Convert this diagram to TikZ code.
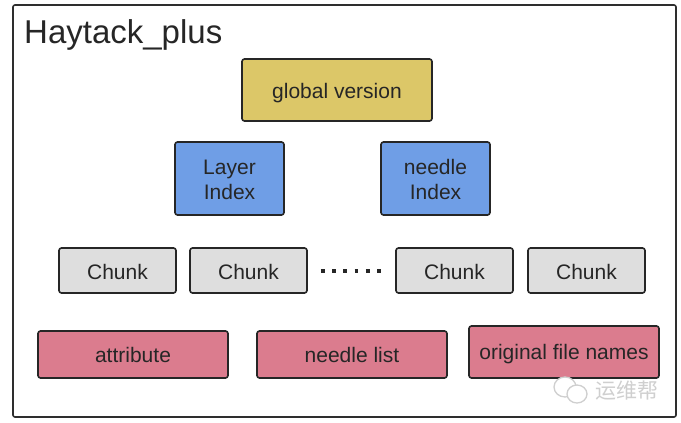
\documentclass[tikz,border=0pt]{standalone}
\usepackage{fontspec}
\setmainfont{Liberation Sans}
\newfontfamily\cjkfont{Noto Sans CJK SC}
\usetikzlibrary{positioning}
\definecolor{versionfill}{HTML}{DCC768}
\definecolor{indexfill}{HTML}{6F9EE6}
\definecolor{chunkfill}{HTML}{DEDEDE}
\definecolor{listfill}{HTML}{DB7C8E}
\definecolor{framedraw}{HTML}{2E2E2E}
\definecolor{markgray}{HTML}{CFCFCF}
\newcommand{\boxtext}[2][8.5pt]{\raisebox{-#1}[0pt][0pt]{\begin{tabular}{@{}c@{}}#2\end{tabular}}}

\begin{document}
\begin{tikzpicture}[x=1pt,y=-1pt,
    main node/.style={rectangle,rounded corners=2.5pt,draw=black!85,line width=1.6pt,inner sep=0.,outer sep=0.,font=\fontsize{21}{25}\selectfont,text=black!85},
    version node/.style={main node,fill=versionfill,minimum width=190pt,minimum height=62pt},
    index node/.style={main node,fill=indexfill,minimum width=109pt,minimum height=73pt},
    chunk node/.style={main node,fill=chunkfill,minimum width=117pt,minimum height=45pt},
    list node/.style={main node,fill=listfill,minimum width=190pt,minimum height=47pt},
    mark line/.style={draw=markgray,line width=1.3pt}]%
  \useasboundingbox (0,0) rectangle (681,423);
  \node[rectangle,rounded corners=2pt,draw=framedraw,line width=1.6pt,fill=white,minimum width=663pt,minimum height=412pt,inner sep=0.] (frame) at (344.5,211) {};
  \node[anchor=base west,inner sep=0.,font=\fontsize{33}{38}\selectfont,text=black!85] (title) at (24,43) {Haytack\_plus};
  \node[version node] (version) at (337,90) {\boxtext{global version}};
  \node[index node] (layer) at (229.5,178.5) {\boxtext{Layer\\Index}};
  \node[index node] (needle) at (435.5,178.5) {\boxtext{needle\\Index}};
  \node[chunk node] (chunka) at (117.5,270.5) {\boxtext[9.5pt]{Chunk}};
  \node[chunk node] (chunkb) at (248.5,270.5) {\boxtext[9.5pt]{Chunk}};
  \node[chunk node] (chunkc) at (454.5,270.5) {\boxtext[9.5pt]{Chunk}};
  \node[chunk node] (chunkd) at (586.5,270.5) {\boxtext[9.5pt]{Chunk}};
  \coordinate (dotstart) at (320.9,271);
  \coordinate (dotend) at (381,271);
  \draw[line width=3.6pt,black!85,dash pattern=on 3.6pt off 7.66pt] (dotstart)--(dotend);
  \node[list node] (attribute) at (133,354.5) {\boxtext{attribute}};
  \node[list node] (needlelist) at (352,354.5) {\boxtext{needle list}};
  \node[list node,minimum height=52pt] (filenames) at (564,352) {\boxtext[8pt]{original file names}};
  % watermark
  \draw[mark line,fill=white] (565,387) ellipse (11pt and 10pt);
  \draw[mark line,fill=white] (577,394) ellipse (10pt and 9pt);
  \node[anchor=base west,inner sep=0.,text=markgray,font=\cjkfont\fontsize{21}{24}\selectfont] (mark) at (595,398) {运维帮};
\end{tikzpicture}
\end{document}
